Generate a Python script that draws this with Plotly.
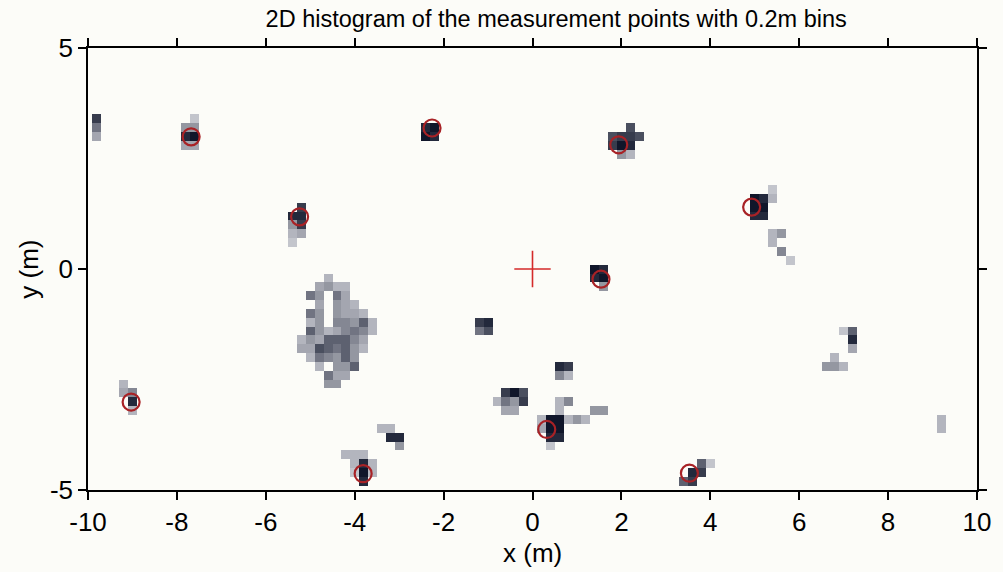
import numpy as np
import plotly.graph_objects as go

BIN = 0.2  # histogram bin size (m)

# Occupied bins of each group of points: (bin centre x, bin centre y, count)
post_far_left = [(-9.8, 3.4, 10), (-9.8, 3.2, 7), (-9.8, 3.0, 4)]
post_top_left = [(-7.6, 3.4, 2), (-7.8, 3.2, 5), (-7.6, 3.2, 5), (-7.8, 3.0, 11),
                 (-7.6, 3.0, 12), (-7.8, 2.8, 4), (-7.6, 2.8, 4)]
post_top_mid = [(-2.4, 3.2, 11), (-2.2, 3.2, 12), (-2.4, 3.0, 12), (-2.2, 3.0, 11)]
post_top_right = [(2.2, 3.2, 9), (1.8, 3.0, 9), (2.0, 3.0, 10), (2.2, 3.0, 10),
                  (2.4, 3.0, 9), (1.8, 2.8, 10), (2.0, 2.8, 12), (2.2, 2.8, 11),
                  (2.0, 2.6, 5), (2.2, 2.6, 3)]
post_right = [(5.0, 1.6, 12), (5.2, 1.6, 11), (5.0, 1.4, 12), (5.2, 1.4, 12),
              (5.0, 1.2, 11), (5.2, 1.2, 11), (5.4, 1.8, 2), (5.4, 1.6, 3),
              (5.4, 0.8, 3), (5.6, 0.8, 5), (5.4, 0.6, 3), (5.6, 0.4, 6), (5.8, 0.2, 2)]
post_left = [(-5.2, 1.4, 10), (-5.4, 1.2, 11), (-5.2, 1.2, 11), (-5.4, 1.0, 5),
             (-5.2, 1.0, 10), (-5.4, 0.8, 3), (-5.2, 0.8, 4), (-5.4, 0.6, 2)]
post_centre = [(1.4, 0.0, 12), (1.6, 0.0, 11), (1.4, -0.2, 11), (1.6, -0.2, 12),
               (1.6, -0.4, 5)]
box_centre = [(-1.2, -1.2, 10), (-1.0, -1.2, 11), (-1.2, -1.4, 7), (-1.0, -1.4, 9)]
person_blob = [
    (-4.6, -0.2, 3),
    (-4.8, -0.4, 4), (-4.6, -0.4, 5), (-4.4, -0.4, 3), (-4.2, -0.4, 3),
    (-5.0, -0.6, 7), (-4.8, -0.6, 5), (-4.4, -0.6, 7), (-4.2, -0.6, 4),
    (-4.8, -0.8, 4), (-4.4, -0.8, 5), (-4.2, -0.8, 4), (-4.0, -0.8, 3),
    (-5.0, -1.0, 7), (-4.8, -1.0, 5), (-4.4, -1.0, 5), (-4.2, -1.0, 4),
    (-4.0, -1.0, 4), (-3.8, -1.0, 3),
    (-5.0, -1.2, 3), (-4.8, -1.2, 5), (-4.4, -1.2, 6), (-4.2, -1.2, 6),
    (-4.0, -1.2, 5), (-3.8, -1.2, 8), (-3.6, -1.2, 3),
    (-5.0, -1.4, 8), (-4.8, -1.4, 5), (-4.6, -1.4, 3), (-4.4, -1.4, 4),
    (-4.2, -1.4, 6), (-4.0, -1.4, 7), (-3.8, -1.4, 6), (-3.6, -1.4, 3),
    (-5.2, -1.6, 3), (-5.0, -1.6, 5), (-4.8, -1.6, 4), (-4.6, -1.6, 8),
    (-4.4, -1.6, 8), (-4.2, -1.6, 8), (-4.0, -1.6, 6), (-3.8, -1.6, 4),
    (-5.2, -1.8, 4), (-5.0, -1.8, 4), (-4.8, -1.8, 9), (-4.6, -1.8, 8),
    (-4.4, -1.8, 7), (-4.2, -1.8, 8), (-4.0, -1.8, 5), (-3.8, -1.8, 3),
    (-5.0, -2.0, 3), (-4.8, -2.0, 7), (-4.6, -2.0, 6), (-4.4, -2.0, 5),
    (-4.2, -2.0, 8), (-4.0, -2.0, 5),
    (-4.8, -2.2, 3), (-4.4, -2.2, 5), (-4.2, -2.2, 5), (-4.0, -2.2, 8),
    (-4.6, -2.4, 7), (-4.4, -2.4, 4), (-4.2, -2.4, 4),
    (-4.6, -2.6, 5), (-4.4, -2.6, 5),
]
post_low_left = [(-9.2, -2.6, 3), (-9.2, -2.8, 4), (-9.0, -2.8, 6), (-9.0, -3.0, 11),
                 (-9.0, -3.2, 3)]
box_low_mid = [(-0.6, -2.8, 10), (-0.4, -2.8, 12), (-0.2, -2.8, 9), (-0.8, -3.0, 3),
               (-0.6, -3.0, 7), (-0.4, -3.0, 5), (-0.2, -3.0, 10), (-0.6, -3.2, 4),
               (-0.4, -3.2, 4), (0.6, -2.2, 11), (0.8, -2.2, 10), (0.6, -2.4, 6),
               (0.8, -2.4, 3)]
post_low_mid = [(0.4, -3.4, 12), (0.6, -3.4, 12), (0.4, -3.6, 12), (0.6, -3.6, 12),
                (0.4, -3.8, 11), (0.6, -3.8, 11), (0.2, -3.4, 3), (0.2, -3.6, 4),
                (0.4, -4.0, 2), (0.6, -3.0, 3), (0.8, -3.0, 6), (0.6, -3.2, 3),
                (0.8, -3.4, 3), (1.0, -3.4, 5), (1.2, -3.4, 3), (1.4, -3.2, 5),
                (1.6, -3.2, 5)]
post_bottom_left = [(-4.2, -4.2, 3), (-4.0, -4.2, 3), (-3.8, -4.2, 3), (-4.0, -4.4, 3),
                    (-3.8, -4.4, 11), (-3.6, -4.4, 3), (-4.0, -4.6, 2), (-3.8, -4.6, 12),
                    (-3.6, -4.6, 3), (-3.8, -4.8, 11), (-3.4, -3.6, 3), (-3.2, -3.6, 3),
                    (-3.2, -3.8, 11), (-3.0, -3.8, 11), (-3.0, -4.0, 5)]
post_bottom_right = [(3.8, -4.4, 8), (4.0, -4.4, 2), (3.6, -4.6, 11), (3.8, -4.6, 10),
                     (3.4, -4.8, 8), (3.6, -4.8, 10)]
clutter_right = [(7.0, -1.4, 2), (7.2, -1.4, 8), (7.2, -1.6, 11), (7.2, -1.8, 4),
                 (6.8, -2.0, 3), (6.6, -2.2, 5), (6.8, -2.2, 5), (7.0, -2.2, 3),
                 (9.2, -3.4, 3), (9.2, -3.6, 3)]

groups = [post_far_left, post_top_left, post_top_mid, post_top_right, post_right,
          post_left, post_centre, box_centre, person_blob, post_low_left,
          box_low_mid, post_low_mid, post_bottom_left, post_bottom_right,
          clutter_right]

# Known landmark positions (m)
landmark_x = [-7.68, -2.26, 1.94, -5.24, 4.93, 1.54, -9.03, 0.32, -3.81, 3.53]
landmark_y = [2.99, 3.19, 2.81, 1.18, 1.40, -0.23, -3.01, -3.63, -4.63, -4.62]

# Sensor origin
origin_x = [0.0]
origin_y = [0.0]

x_ticks = [-10, -8, -6, -4, -2, 0, 2, 4, 6, 8, 10]
y_ticks = [-5, 0, 5]

# Build the count grid (empty bins left blank)
xc = np.round(np.arange(-10, 10 + BIN / 2, BIN), 1)
yc = np.round(np.arange(-5, 5 + BIN / 2, BIN), 1)
z = np.full((len(yc), len(xc)), np.nan)
for g in groups:
    for cx, cy, n in g:
        i = int(round((cy + 5) / BIN))
        j = int(round((cx + 10) / BIN))
        z[i, j] = n

bg = "#fcfcf8"
font = "Liberation Sans, Arial, Helvetica, sans-serif"

fig = go.Figure()
fig.add_trace(go.Heatmap(
    x=xc, y=yc, z=z, zmin=1, zmax=12,
    colorscale=[[0.0, "#d3d4da"], [0.45, "#858894"], [1.0, "#10162a"]],
    showscale=False, hoverongaps=False,
))
fig.add_trace(go.Scatter(
    x=landmark_x, y=landmark_y, mode="markers",
    marker=dict(symbol="circle-open", size=17, color="#a82226",
                line=dict(width=2.2, color="#a82226")),
    showlegend=False,
))
fig.add_trace(go.Scatter(
    x=origin_x, y=origin_y, mode="markers",
    marker=dict(symbol="cross-thin", size=26, color="#d42a2a",
                line=dict(width=1.6, color="#d42a2a")),
    showlegend=False,
))

axis_common = dict(
    showline=True, linecolor="black", linewidth=1.6, mirror="ticks",
    ticks="outside", ticklen=8, tickwidth=1.5, tickcolor="black",
    showgrid=False, zeroline=False,
    tickfont=dict(family=font, size=26, color="black"),
)
fig.update_xaxes(range=[-10, 10], tickvals=x_ticks,
                 ticktext=[str(v) for v in x_ticks], **axis_common)
fig.update_yaxes(range=[-5, 5], tickvals=y_ticks,
                 ticktext=[str(v) for v in y_ticks], **axis_common)

fig.update_layout(
    width=1003, height=572,
    margin=dict(l=88, r=15, t=48, b=82),
    paper_bgcolor=bg, plot_bgcolor=bg,
    font=dict(family=font, color="black"),
    title=dict(text="2D histogram of the measurement points with 0.2m bins",
               font=dict(family=font, size=23.5, color="black"),
               xref="paper", x=(562 - 88) / 900, xanchor="center",
               yref="container", y=1 - 19 / 572, yanchor="middle"),
    annotations=[
        dict(text="x (m)", xref="paper", yref="paper", x=(538 - 88) / 900,
             y=(490 - 553) / 442, showarrow=False, xanchor="center",
             yanchor="middle", font=dict(family=font, size=26, color="black")),
        dict(text="y (m)", xref="paper", yref="paper", x=(28 - 88) / 900,
             y=0.5, showarrow=False, textangle=-90, xanchor="center",
             yanchor="middle", font=dict(family=font, size=26, color="black")),
    ],
)

fig.write_html("out.html")
